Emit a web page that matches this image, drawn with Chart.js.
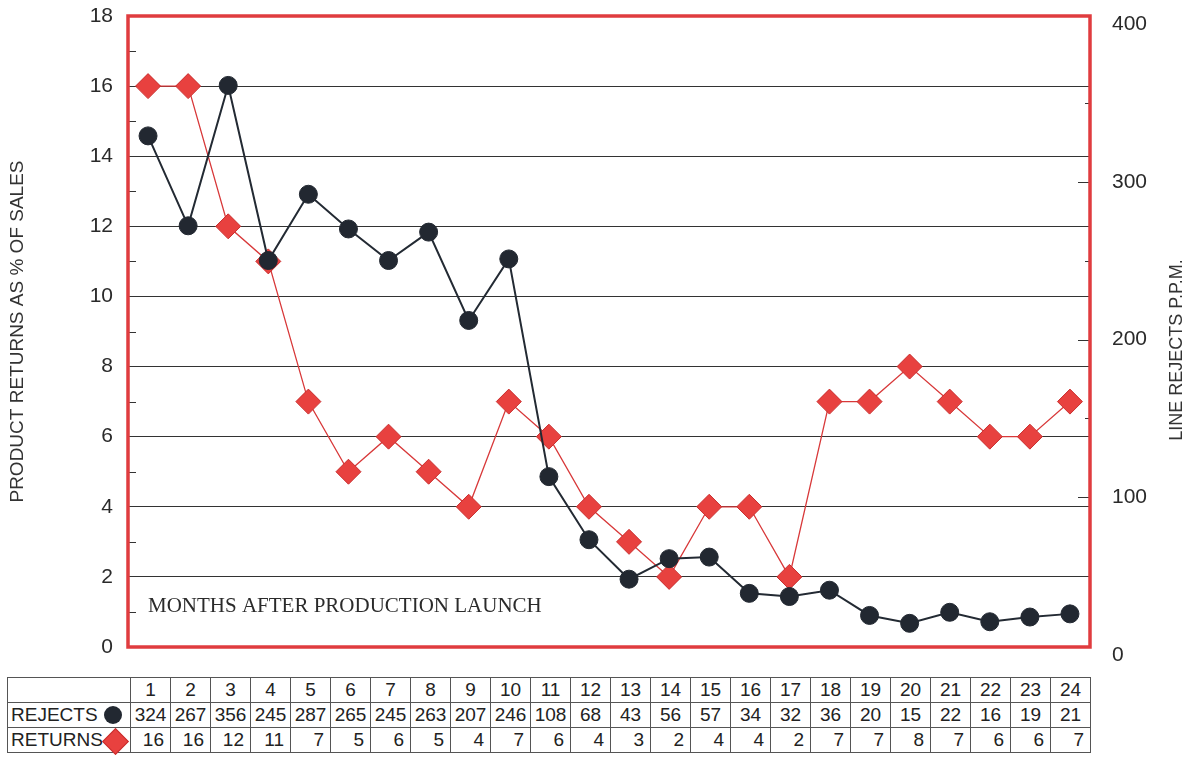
<!DOCTYPE html>
<html>
<head>
<meta charset="utf-8">
<script src="https://cdn.jsdelivr.net/npm/chart.js@4.4.1/dist/chart.umd.min.js"></script>
<style>
  body { margin: 0; background: #fff; }
  #wrap { position: absolute; left: 0; top: 0; width: 1185px; height: 672px; }
  #tbl {
    position: absolute; left: 7px; top: 677px;
    border-collapse: collapse; table-layout: fixed; width: 1083px;
    font-family: "Liberation Sans", Arial, sans-serif; font-size: 19px; color: #222;
  }
  #tbl td { border: 1px solid #555; height: 24px; padding: 0; text-align: center; line-height: 24px; }
  #tbl td.lbl { text-align: left; padding-left: 3px; position: relative; }
  #tbl td.ret { text-align: right; padding-right: 6px; }
  .dot { position: absolute; right: 8px; top: 3px; width: 18px; height: 18px; border-radius: 50%; background: #222831; }
  .dia { position: absolute; right: 5px; top: 4px; width: 17px; height: 17px; background: #e8413f;
         border: 1px solid #c92e2e; transform: rotate(45deg); z-index: 2; }
</style>
</head>
<body>
<div id="wrap"><canvas id="myChart"></canvas></div>
<table id="tbl"></table>
<script>
const months = ['1','2','3','4','5','6','7','8','9','10','11','12','13','14','15','16','17','18','19','20','21','22','23','24'];
const rejects = [324, 267, 356, 245, 287, 265, 245, 263, 207, 246, 108, 68, 43, 56, 57, 34, 32, 36, 20, 15, 22, 16, 19, 21];
const returns = [16, 16, 12, 11, 7, 5, 6, 5, 4, 7, 6, 4, 3, 2, 4, 4, 2, 7, 7, 8, 7, 6, 6, 7];

// table under the chart
let tbl = document.getElementById('tbl');
let html = '<colgroup><col style="width:123px">';
for (let i = 0; i < months.length; i++) html += '<col style="width:40px">';
html += '</colgroup>';
html += '<tr><td class="lbl"></td>' + months.map(m => '<td>' + m + '</td>').join('') + '</tr>';
html += '<tr><td class="lbl">REJECTS<span class="dot"></span></td>' + rejects.map(v => '<td>' + v + '</td>').join('') + '</tr>';
html += '<tr><td class="lbl">RETURNS<span class="dia"></span></td>' + returns.map(v => '<td class="ret">' + v + '</td>').join('') + '</tr>';
tbl.innerHTML = html;

const font = '"Liberation Sans", Arial, sans-serif';

const extras = {
  id: 'extras',
  afterDraw(chart) {
    const c = chart.ctx;
    const a = chart.chartArea;
    const yl = chart.scales.y;
    const yr = chart.scales.y1;
    c.save();
    // minor ticks, left axis
    c.strokeStyle = '#333';
    c.lineWidth = 1;
    for (let v = 1; v < 18; v += 2) {
      let p = Math.round(yl.getPixelForValue(v)) + 0.5;
      c.beginPath(); c.moveTo(a.left, p); c.lineTo(a.left + 8, p); c.stroke();
    }
    // ticks, right axis
    for (let v = 50; v < 400; v += 50) {
      let p = Math.round(yr.getPixelForValue(v)) + 8.5;
      let len = v % 100 === 0 ? 12 : 5;
      c.beginPath(); c.moveTo(a.right, p); c.lineTo(a.right - len, p); c.stroke();
    }
    // red frame
    c.strokeStyle = '#e03c3f';
    c.lineWidth = 3.5;
    c.strokeRect(a.left, a.top, a.right - a.left, a.bottom - a.top);
    // label inside plot
    c.fillStyle = '#2b2b2b';
    c.font = '21px "Liberation Serif", "Times New Roman", serif';
    c.textBaseline = 'alphabetic';
    c.fillText('MONTHS AFTER PRODUCTION LAUNCH', a.left + 20, a.bottom - 35);
    // right axis title, reads bottom to top
    c.translate(1177, 350);
    c.rotate(-Math.PI / 2);
    c.font = '18px ' + font;
    c.fillStyle = '#333';
    c.textAlign = 'center';
    c.textBaseline = 'middle';
    c.fillText('LINE REJECTS P.P.M.', 0, 0);
    c.restore();
  }
};

const ctx = document.getElementById('myChart').getContext('2d');
const myChart = new Chart(ctx, {
  type: 'line',
  data: {
    labels: months,
    datasets: [{
      label: 'REJECTS',
      data: rejects,
      yAxisID: 'y1',
      borderColor: '#232a33',
      borderWidth: 2,
      pointStyle: 'circle',
      pointRadius: 9,
      pointBackgroundColor: '#222831',
      pointBorderColor: '#222831',
      pointBorderWidth: 1
    }, {
      label: 'RETURNS',
      data: returns,
      yAxisID: 'y',
      borderColor: '#d8393a',
      borderWidth: 1.3,
      pointStyle: 'rectRot',
      pointRadius: 12.5,
      pointBackgroundColor: '#e8413f',
      pointBorderColor: '#c92e2e',
      pointBorderWidth: 1
    }]
  },
  options: {
    responsive: true,
    maintainAspectRatio: false,
    animation: false,
    layout: { autoPadding: false, padding: { top: 16, bottom: 25, left: 0, right: 0 } },
    plugins: { legend: { display: false }, tooltip: { enabled: false } },
    scales: {
      x: { type: 'category', offset: true, display: false },
      y: {
        position: 'left',
        min: 0, max: 18,
        ticks: {
          stepSize: 1,
          padding: 15,
          color: '#2a2a2a',
          font: { family: font, size: 21 },
          callback: v => (v % 2 === 0 ? v : '')
        },
        grid: {
          drawTicks: false,
          lineWidth: 1,
          color: c => (c.tick && c.tick.value % 2 === 0 ? '#333' : 'transparent')
        },
        border: { display: false },
        title: {
          display: true,
          text: 'PRODUCT RETURNS AS % OF SALES',
          color: '#333',
          font: { family: font, size: 19, lineHeight: 1 },
          padding: { top: 8, bottom: 7 }
        },
        afterFit: s => { s.width = 128; s.paddingTop = 0; s.paddingBottom = 0; }
      },
      y1: {
        position: 'right',
        min: 0, max: 400,
        ticks: {
          stepSize: 100,
          padding: 22,
          labelOffset: 8,
          color: '#2a2a2a',
          font: { family: font, size: 21 }
        },
        grid: { display: false, drawTicks: false },
        border: { display: false },
        afterFit: s => { s.width = 95; s.paddingTop = 0; s.paddingBottom = 0; }
      }
    }
  },
  plugins: [extras]
});
</script>
</body>
</html>
